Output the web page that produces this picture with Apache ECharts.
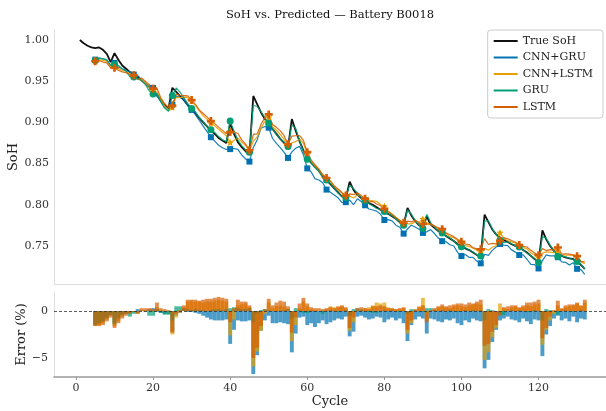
<!DOCTYPE html>
<html>
<head>
<meta charset="utf-8">
<script src="https://cdn.jsdelivr.net/npm/echarts@6/dist/echarts.min.js"></script>
<style>
  html, body { margin: 0; padding: 0; background: #fff; }
  #chart { width: 606px; height: 411px; }
</style>
</head>
<body>
<div id="chart"></div>
<script>
// true SoH, cycles 1..132
var trueSoh = [
  1.000, 0.996, 0.993, 0.991, 0.990, 0.991, 0.988, 0.983, 0.973, 0.984,
  0.976, 0.969, 0.965, 0.961, 0.958, 0.955, 0.951, 0.947, 0.943, 0.939,
  0.933, 0.927, 0.921, 0.917,
  0.942, 0.937, 0.932, 0.927, 0.921, 0.916, 0.911, 0.905, 0.900, 0.895,
  0.890, 0.886, 0.881, 0.878, 0.875, 0.899, 0.886, 0.876, 0.870, 0.865, 0.861,
  0.932, 0.922, 0.912, 0.904, 0.898, 0.892, 0.886, 0.880, 0.875, 0.869,
  0.904, 0.890, 0.877, 0.866, 0.857, 0.851, 0.846, 0.841, 0.835, 0.830,
  0.825, 0.820, 0.815, 0.810, 0.808,
  0.828, 0.818, 0.812, 0.808, 0.805, 0.802, 0.800, 0.797, 0.794, 0.791,
  0.789, 0.786, 0.783, 0.779, 0.775, 0.796, 0.787, 0.780, 0.775, 0.772,
  0.786, 0.776, 0.772, 0.768, 0.765, 0.762, 0.759, 0.756, 0.752, 0.749,
  0.747, 0.745, 0.742, 0.739, 0.737,
  0.788, 0.779, 0.770, 0.764, 0.760, 0.757, 0.755, 0.752, 0.750, 0.748,
  0.745, 0.742, 0.738, 0.734, 0.730,
  0.769, 0.758, 0.750, 0.744, 0.740, 0.738, 0.736, 0.735, 0.734, 0.731,
  0.727, 0.722
];
var firstPredCycle = 5;

// prediction error in %, cycles 5..132
var errCnnGru = [
  -1.4, -1.3, -1.1, -0.8, -0.4, -1.2, -0.9, -0.4, -0.2, 0.0,
  0.0, 0.2, 0.1, 0.0, 0.2, 0.3, -0.1, -0.2, -0.3, -0.3,
  -2.2, -0.5, -0.2, 0.0, -0.1, -0.1, -0.2, -0.3, -0.5, -0.7,
  -0.9, -1.0, -1.0, -1.0, -0.9, -3.5, -2.0, -1.0, -1.1, -1.1,
  -1.0, -6.7, -4.7, -2.1, -1.0, -0.5, -1.3, -1.3, -1.2, -1.3,
  -1.4, -4.4, -2.4, -0.7, -0.6, -1.5, -1.3, -1.7, -1.3, -1.0,
  -1.4, -1.2, -1.0, -0.8, -0.9, -0.6, -2.7, -2.2, -0.6, -0.5,
  -0.7, -0.9, -0.8, -0.6, -0.7, -1.2, -0.9, -0.7, -1.0, -0.8,
  -1.3, -3.2, -1.5, -0.9, -0.6, -0.8, -2.4, -0.8, -0.9, -1.1,
  -1.2, -0.9, -1.0, -0.8, -1.3, -1.5, -1.0, -1.2, -0.8, -1.0,
  -1.1, -6.1, -5.2, -3.3, -2.0, -1.0, -0.8, -0.6, -0.9, -1.0,
  -1.2, -0.8, -1.1, -1.4, -0.9, -1.0, -4.8, -2.5, -1.6, -0.8,
  -0.5, -1.0, -0.8, -1.1, -0.6, -1.2, -0.8, -0.9
];
var errCnnLstm = [
  -1.6, -1.5, -1.3, -0.9, -0.5, -1.6, -1.1, -0.6, -0.3, -0.2,
  -0.1, -0.3, 0.1, 0.1, 0.0, -0.1, 0.4, 0.1, -0.1, -0.2,
  -2.5, -0.7, -0.2, 0.4, 1.0, 1.1, 1.0, 1.0, 0.9, 1.0,
  1.0, 1.1, 1.2, 1.1, 1.0, -2.6, -0.9, 0.6, 0.7, 0.8,
  0.4, -5.9, -4.3, -2.1, -0.3, 0.9, 0.3, 0.5, 0.6, 0.5,
  0.2, -3.2, -1.5, 0.3, 1.0, 0.5, 0.2, 0.1, 0.0, 0.1,
  0.2, 0.5, 0.4, 0.4, 0.5, 0.3, -2.1, -1.2, 0.0, 0.2,
  0.3, 0.4, 0.6, 0.9, 0.8, 0.9, 0.4, 0.3, 0.2, 0.2,
  0.3, -2.4, -1.3, -0.1, 0.5, 1.4, -1.0, 0.0, 0.2, 0.4,
  0.5, 0.4, 0.3, 0.5, 0.6, 0.5, 0.4, 0.6, 0.7, 0.8,
  0.7, -5.2, -4.4, -2.8, -1.8, 0.8, 0.3, 0.2, 0.4, 0.5,
  0.3, 0.4, 0.6, 0.5, 0.7, 0.8, -3.6, -2.0, -1.0, -0.3,
  0.6, 0.2, 0.4, 0.5, 0.6, 0.8, 0.5, 0.9
];
var errGru = [
  -1.5, -1.3, -1.1, -0.7, -0.4, -1.4, -0.7, -0.4, -0.3, -0.6,
  -0.3, -0.2, 0.0, -0.1, -0.5, -0.5, 0.2, -0.2, -0.4, -0.4,
  -1.0, 0.5, 0.5, 0.3, 0.2, 0.1, 0.2, 0.1, 0.1, 0.0,
  0.1, 0.2, 0.2, 0.1, 0.2, 0.3, 0.4, 0.3, 0.2, 0.2,
  0.3, -1.2, -0.3, 0.1, 0.2, 0.1, 0.0, -0.1, 0.0, 0.1,
  0.2, -0.8, 0.3, 0.1, -0.2, -0.2, 0.0, -0.1, 0.0, -0.3,
  0.0, 0.1, 0.0, -0.1, 0.0, 0.1, -0.5, 0.2, 0.3, 0.1,
  0.0, -0.1, -0.2, -0.2, 0.0, 0.1, 0.0, 0.1, 0.0, -0.1,
  0.0, -0.3, 0.2, 0.1, 0.0, -0.1, 0.3, 0.3, 0.1, 0.0,
  0.1, 0.0, 0.1, 0.0, -0.1, 0.0, 0.1, 0.0, 0.1, 0.0,
  0.1, -1.0, 0.2, 0.1, 0.0, -0.4, -0.4, 0.0, 0.1, 0.0,
  0.1, 0.0, -0.1, 0.0, 0.1, 0.0, -1.0, 0.2, 0.1, 0.0,
  -0.4, 0.0, 0.1, 0.0, -0.1, 0.0, 0.1, 0.0
];
var errLstm = [
  -1.6, -1.6, -1.5, -1.1, -0.7, -1.8, -1.3, -0.8, -0.5, -0.3,
  -0.1, -0.3, 0.3, 0.3, 0.3, 0.2, 0.9, 0.3, 0.2, 0.1,
  -2.3, -0.3, 0.1, 0.6, 1.2, 1.2, 1.2, 1.1, 1.2, 1.3,
  1.3, 1.4, 1.5, 1.4, 1.3, -1.2, 0.3, 1.2, 1.0, 1.0,
  0.6, -5.0, -3.9, -1.6, 0.2, 1.3, 0.6, 0.9, 1.1, 1.0,
  0.5, -2.3, -0.7, 0.8, 1.4, 0.8, 0.4, 0.3, 0.3, 0.2,
  0.3, 0.4, 0.3, 0.5, 0.6, 0.4, -1.8, -0.7, 0.3, 0.4,
  0.3, 0.2, 0.5, 0.5, 0.6, 0.5, 0.3, 0.3, 0.2, 0.3,
  0.4, -2.0, -1.0, 0.2, 0.4, 0.6, -1.2, 0.1, 0.3, 0.5,
  0.7, 0.5, 0.6, 0.7, 0.8, 0.8, 0.7, 0.9, 0.8, 1.0,
  1.2, -3.7, -3.5, -2.2, -1.5, -0.5, 0.4, 0.5, 0.6, 0.6,
  0.4, 0.6, 0.9, 0.9, 1.0, 1.2, -2.9, -1.8, -0.6, 0.1,
  1.1, 0.3, 0.6, 0.7, 0.7, 0.9, 0.6, 1.2
];

var sohTicks = [0.75, 0.80, 0.85, 0.90, 0.95, 1.00];
var errTicks = [-5, 0];
var cycleTicks = [0, 20, 40, 60, 80, 100, 120];

var FONT = 'DejaVu Serif';
var models = [
  { name: 'CNN+GRU',  err: errCnnGru,  color: '#0072B2', symbol: 'rect',   size: 6 },
  { name: 'CNN+LSTM', err: errCnnLstm, color: '#E69F00', symbol: 'path://M0,-10 L2.9,-4 9.5,-3.1 4.7,1.5 5.9,8.1 0,5 -5.9,8.1 -4.7,1.5 -9.5,-3.1 -2.9,-4 Z', size: 7 },
  { name: 'GRU',      err: errGru,     color: '#009E73', symbol: 'circle', size: 7 },
  { name: 'LSTM',     err: errLstm,    color: '#D55E00', symbol: 'path://M-1,-3 H1 V-1 H3 V1 H1 V3 H-1 V1 H-3 V-1 H-1 Z', size: 8 }
];

var trueData = trueSoh.map(function (v, i) { return [i + 1, v]; });

var series = [{
  name: 'True SoH', type: 'line', xAxisIndex: 0, yAxisIndex: 0,
  data: trueData, symbol: 'none', color: '#111',
  lineStyle: { color: '#111', width: 1.8 }, z: 2
}];

models.forEach(function (m) {
  var pts = m.err.map(function (e, i) {
    var c = firstPredCycle + i;
    var v = trueSoh[c - 1] * (1 + e / 100);
    return { value: [c, v], symbol: (i % 5 === 0) ? m.symbol : 'none' };
  });
  series.push({
    name: m.name, type: 'line', xAxisIndex: 0, yAxisIndex: 0,
    data: pts, symbolSize: m.size, showSymbol: true, showAllSymbol: true,
    color: m.color,
    itemStyle: { color: m.color },
    lineStyle: { color: m.color, width: 1.2, opacity: 0.9 },
    z: 3
  });
});

models.forEach(function (m, k) {
  var bars = m.err.map(function (e, i) { return [firstPredCycle + i, e]; });
  var s = {
    name: m.name + ' err', type: 'bar', xAxisIndex: 1, yAxisIndex: 1,
    data: bars, barWidth: 3.9, barGap: '-100%',
    itemStyle: { color: m.color, opacity: 0.7 },
    z: 2
  };
  if (k === 0) {
    s.markLine = {
      silent: true, symbol: 'none', label: { show: false },
      lineStyle: { color: '#333', width: 0.8, type: [3, 2] },
      data: [{ yAxis: 0 }]
    };
  }
  series.push(s);
});

var chart = echarts.init(document.getElementById('chart'), null, { renderer: 'canvas' });
chart.setOption({
  animation: false,
  backgroundColor: '#fff',
  textStyle: { fontFamily: FONT },
  graphic: [{
    type: 'text', x: 330, y: 15,
    style: {
      text: 'SoH vs. Predicted \u2014 Battery B0018',
      font: '11.5px "DejaVu Serif"', fill: '#111',
      textAlign: 'center', textVerticalAlign: 'middle'
    }
  }],
  legend: {
    data: ['True SoH', 'CNN+GRU', 'CNN+LSTM', 'GRU', 'LSTM'],
    orient: 'vertical', right: 3, top: 30,
    icon: 'rect', itemWidth: 24, itemHeight: 2, itemGap: 2.5,
    padding: [4, 10, 4, 6],
    borderColor: '#ccc', borderWidth: 1, borderRadius: 3,
    backgroundColor: '#fff',
    textStyle: { fontFamily: FONT, fontSize: 11, color: '#222', lineHeight: 14 }
  },
  grid: [
    { left: 54, right: 0, top: 30, height: 254, outerBoundsMode: 'none' },
    { left: 54, right: 0, top: 292, height: 85, outerBoundsMode: 'none' }
  ],
  xAxis: [
    {
      gridIndex: 0, type: 'value', min: -5.7, max: 137.5,
      axisLine: { show: true, onZero: false, lineStyle: { color: '#ddd', width: 1 } },
      axisTick: { show: false }, axisLabel: { show: false }, splitLine: { show: false }
    },
    {
      gridIndex: 1, type: 'value', min: -5.7, max: 137.5,
      name: 'Cycle', nameLocation: 'middle', nameGap: 18, nameMoveOverlap: false,
      nameTextStyle: { fontFamily: FONT, fontSize: 13, color: '#222' },
      axisLine: { show: true, onZero: false, lineStyle: { color: '#999', width: 1.5 } },
      axisTick: { show: true, customValues: cycleTicks, length: 3, lineStyle: { color: '#999' } },
      axisLabel: { customValues: cycleTicks, fontFamily: FONT, fontSize: 11, color: '#333', margin: 6 },
      splitLine: { show: false }
    }
  ],
  yAxis: [
    {
      gridIndex: 0, type: 'value', min: 0.7038, max: 1.0121,
      name: 'SoH', nameLocation: 'middle', nameGap: 34, nameRotate: 90, nameMoveOverlap: false,
      nameTextStyle: { fontFamily: FONT, fontSize: 13, color: '#222' },
      axisLine: { show: true, onZero: false, lineStyle: { color: '#ddd', width: 1 } },
      axisTick: { show: false },
      axisLabel: {
        customValues: sohTicks, fontFamily: FONT, fontSize: 11, color: '#333', margin: 5,
        formatter: function (v) { return v.toFixed(2); }
      },
      splitLine: { show: false }
    },
    {
      gridIndex: 1, type: 'value', min: -7.02, max: 2.02,
      name: 'Error (%)', nameLocation: 'middle', nameGap: 26, nameRotate: 90, nameMoveOverlap: false,
      nameTextStyle: { fontFamily: FONT, fontSize: 13, color: '#222' },
      axisLine: { show: true, onZero: false, lineStyle: { color: '#ddd', width: 1 } },
      axisTick: { show: false },
      axisLabel: {
        customValues: errTicks, fontFamily: FONT, fontSize: 11, color: '#333', margin: 6,
        formatter: function (v) { return v < 0 ? '\u2212' + (-v) : String(v); }
      },
      splitLine: { show: false }
    }
  ],
  series: series
});
</script>
</body>
</html>
